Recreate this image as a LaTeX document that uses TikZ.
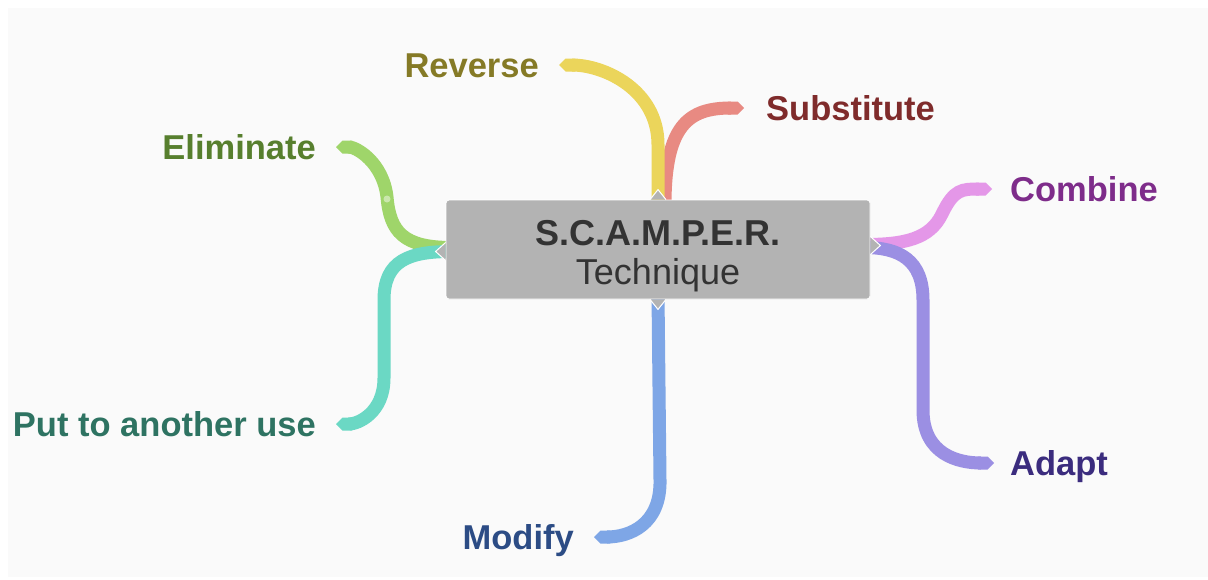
\documentclass[tikz,border=0pt]{standalone}
\usepackage{fontspec}
\setmainfont{Liberation Sans}
\usetikzlibrary{arrows.meta}
\definecolor{bgc}{HTML}{FAFAFA}
\definecolor{boxc}{HTML}{B3B3B3}
\definecolor{txc}{HTML}{333333}
\definecolor{revR}{HTML}{EBD55B}\definecolor{revT}{HTML}{857A26}
\definecolor{subR}{HTML}{E88A82}\definecolor{subT}{HTML}{7F2B2B}
\definecolor{eliR}{HTML}{9FD56A}\definecolor{eliT}{HTML}{577F2E}
\definecolor{putR}{HTML}{6BD8C4}\definecolor{putT}{HTML}{2E7362}
\definecolor{comR}{HTML}{E497E8}\definecolor{comT}{HTML}{7E2C8A}
\definecolor{adaR}{HTML}{9B8FE3}\definecolor{adaT}{HTML}{3B2C7E}
\definecolor{modR}{HTML}{7EA6E6}\definecolor{modT}{HTML}{2C4C85}
\tikzset{
  lbl/.style={inner sep=0pt, font=\fontsize{34.5}{38}\selectfont\bfseries, text height=24pt, text depth=0pt},
  ribbon/.style={line width=13pt, -{Triangle Cap}},
  notch/.style={fill=boxc, draw=white, line width=1pt, line join=miter},
  centre/.style={fill=boxc, draw=white, line width=0.8pt, rounded corners=3pt, minimum width=424pt, minimum height=99pt, inner sep=0pt},
}
\begin{document}
\begin{tikzpicture}[x=1pt,y=-1pt]
\useasboundingbox (0,0) rectangle (1208,579);
\fill[bgc] (8,8) rectangle (1208,577);
% labels
\node[lbl, text=revT, anchor=east] (rev) at (539,65) {Reverse};
\node[lbl, text=subT, anchor=west] (sub) at (766,108) {Substitute};
\node[lbl, text=eliT, anchor=east] (eli) at (316,147) {Eliminate};
\node[lbl, text=putT, anchor=east] (put) at (316,424) {Put to another use};
\node[lbl, text=comT, anchor=west] (com) at (1010,189) {Combine};
\node[lbl, text=adaT, anchor=west] (ada) at (1010,463) {Adapt};
\node[lbl, text=modT, anchor=east] (mod) at (574,537) {Modify};
% central node (for anchors)
\node[centre] (c) at (658,249.5) {};
% ribbons
\draw[ribbon, subR] ([xshift=7pt,yshift=-5pt]c.north) .. controls ++(0,-80) and ++(-55,0) .. ([xshift=-22pt]sub.west);
\draw[ribbon, revR] ([yshift=-5pt]c.north) -- ++(0,-60) .. controls ++(0,-55) and ++(45,0) .. ([xshift=20pt]rev.east);
\draw[ribbon, eliR] ([xshift=6pt,yshift=2pt]c.west) .. controls ++(-48,0) and ++(3,35) .. (387,197) .. controls ++(-4,-35) and ++(20,0) .. ([xshift=20pt]eli.east);
\fill[white, opacity=0.45] (387,199) circle (3.5);
\draw[ribbon, putR] ([xshift=6pt,yshift=-2pt]c.west) .. controls ++(-42,0) and ++(0,-40) .. (384,300) -- (384,378) .. controls ++(0,35) and ++(22,0) .. ([xshift=20pt]put.east);
\draw[ribbon, comR] ([xshift=-6pt,yshift=5pt]c.east) .. controls ++(40,0) and ++(-12,25) .. (942,214) .. controls ++(12,-25) and ++(-30,0) .. ([xshift=-18pt]com.west);
\draw[ribbon, adaR] ([xshift=-6pt,yshift=2pt]c.east) .. controls ++(35,0) and ++(0,-40) .. (923,300) -- (923,410) .. controls ++(0,45) and ++(-35,0) .. ([xshift=-16pt]ada.west);
\draw[ribbon, modR] ([yshift=5pt]c.south) -- (660,480) .. controls ++(1,45) and ++(35,0) .. ([xshift=20pt]mod.east);
% central box on top
\node[centre] (box) at (c) {};
\node[text=txc, align=center, inner sep=0pt, font=\fontsize{36}{39}\selectfont] (title) at (658,256) {\textbf{S.C.A.M.P.E.R.}\\Technique};
% notches
\draw[notch] ([xshift=-8pt]c.north) -- ++(8,-10) -- ++(8,10);
\draw[notch] ([xshift=-8pt]c.south) -- ++(8,10) -- ++(8,-10);
\draw[notch] ([yshift=7pt]c.west) -- ++(-10,9) -- ++(10,9);
\draw[notch] ([yshift=13pt]c.east) -- ++(10,9) -- ++(-10,9);
\end{tikzpicture}
\end{document}
